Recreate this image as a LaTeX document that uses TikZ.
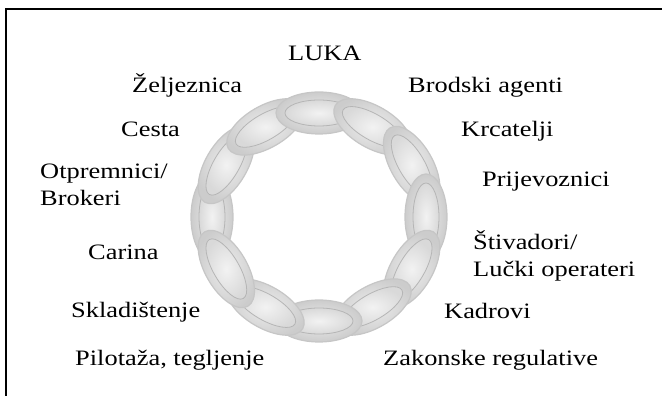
\documentclass[tikz,border=0pt]{standalone}
\usepackage{fontspec}
\setmainfont{Liberation Serif}[FakeStretch=1.2]
\newcommand\actorfont{\fontsize{22}{27}\selectfont}

\begin{document}
\begin{tikzpicture}[
    x=1pt, y=1pt,
    link/.style={draw=gray!45, line width=1.2pt, inner color=gray!15, outer color=gray!40},
    linkhole/.style={draw=gray!58, line width=0.8pt, inner color=gray!10, outer color=gray!30},
    actor/.style={font=\actorfont, inner sep=0pt, anchor=base west, align=left},
    frame/.style={line width=1.4pt}
]
    \useasboundingbox (0,0) rectangle (662,396);
    \coordinate (corner) at (6,0);
    \coordinate (edge) at (662,387);
    \draw[frame] (corner) |- (edge);

    % chain of twelve links, clockwise, each over the one before
    \begin{scope}[shift={(319,179)}]
        \foreach \ang in {180,150,120,90,60,30,0,-30,-60,-90,-120,-150} {
            \shade[link, rotate around={\ang+90:(\ang:107 and 104)}]
                (\ang:107 and 104) ellipse [x radius=43, y radius=21];
            \shade[linkhole, rotate around={\ang+90:(\ang:107 and 104)}]
                (\ang:107 and 104) ellipse [x radius=34, y radius=13];
        }
    \end{scope}

    \node[actor] (luka) at (288,335) {LUKA};
    \node[actor] (zeljeznica) at (132,303) {Željeznica};
    \node[actor] (brodski-agenti) at (408,303) {Brodski agenti};
    \node[actor] (cesta) at (121,259) {Cesta};
    \node[actor] (krcatelji) at (461,259) {Krcatelji};
    \node[actor] (otpremnici) at (40,190) {Otpremnici/\\Brokeri};
    \node[actor] (prijevoznici) at (482,209) {Prijevoznici};
    \node[actor] (carina) at (88,136) {Carina};
    \node[actor] (stivadori) at (473,119) {Štivadori/\\Lučki operateri};
    \node[actor] (skladistenje) at (71,78) {Skladištenje};
    \node[actor] (kadrovi) at (444,77) {Kadrovi};
    \node[actor] (pilotaza) at (75,30) {Pilotaža, tegljenje};
    \node[actor] (zakonske) at (383,30) {Zakonske regulative};
\end{tikzpicture}
\end{document}
